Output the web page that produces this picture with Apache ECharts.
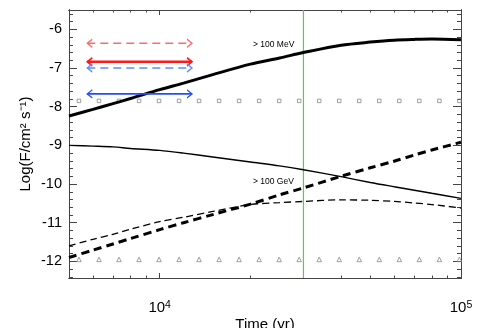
<!DOCTYPE html>
<html><head><meta charset="utf-8">
<script src="https://cdn.jsdelivr.net/npm/echarts@6/dist/echarts.min.js"></script>
<style>html,body{margin:0;padding:0;background:#fff}#c{width:479px;height:328px}</style>
</head><body><div id="c"></div>
<script>
// ---- data ----
const curveTimes = [5000, 6000, 7000, 8000, 10000, 12000, 15000, 20000, 25000, 30000, 40000, 50000, 60000, 70000, 80000, 100000];
const mevSolid = [-8.24, -8.07, -7.92, -7.79, -7.56, -7.39, -7.17, -6.90, -6.74, -6.60, -6.41, -6.33, -6.28, -6.26, -6.25, -6.27];
const gevSolid = [-9.00, -9.02, -9.04, -9.08, -9.13, -9.20, -9.30, -9.43, -9.53, -9.63, -9.81, -9.96, -10.07, -10.16, -10.24, -10.37];
const gevDashThin = [-11.60, -11.43, -11.30, -11.17, -10.97, -10.86, -10.71, -10.53, -10.48, -10.45, -10.41, -10.42, -10.45, -10.49, -10.53, -10.62];
const gevDashThick = [-11.90, -11.71, -11.55, -11.41, -11.18, -11.00, -10.79, -10.52, -10.28, -10.10, -9.80, -9.58, -9.41, -9.25, -9.12, -8.92];
const markerTimes = [5395, 6287, 7326, 8540, 9950, 11597, 13510, 15745, 18344, 21385, 24920, 29040, 33840, 39440, 45950, 53560, 62410, 72730, 84770, 98760];
const squareLevel = -7.85;
const triangleLevel = -11.95;
const limitTimes = [5750, 12800];
const limitRedDashed = -6.36;
const limitRedSolid = -6.84;
const limitBlueDashed = -7.00;
const limitBlueSolid = -7.67;
const markTime = 30000;
const xMajorTicks = [10000, 100000];
const xMinorTicks = [6000, 7000, 8000, 9000, 20000, 30000, 40000, 50000, 60000, 70000, 80000, 90000];
const yMajorTicks = [-12, -11, -10, -9, -8, -7, -6];
const labelMeV = '> 100 MeV';
const labelGeV = '> 100 GeV';

// ---- helpers ----
const FONT = 'Liberation Sans, Arial, Helvetica, sans-serif';
const yMinorTicks = [];
for (let v = -12.4; v <= -5.55; v += 0.2) {
  const r = Math.round(v * 10) / 10;
  if (Math.abs(r - Math.round(r)) > 1e-6) yMinorTicks.push(r);
}
const XMIN = 5000, XMAX = 100000, YMIN = -12.43, YMAX = -5.5;
const LXMIN = Math.log10(XMIN), LXMAX = Math.log10(XMAX);
const AX = '#444';

function auxX(pos, values, len, labels) {
  return {
    type: 'value', position: pos, min: LXMIN, max: LXMAX,
    axisLine: { show: true, onZero: false, lineStyle: { color: AX, width: 1 } },
    splitLine: { show: false }, splitArea: { show: false },
    axisTick: { show: true, inside: true, length: len, customValues: values.map(v => Math.log10(v)), lineStyle: { color: AX, width: 1 } },
    axisLabel: labels ? {
      show: true, customValues: values.map(v => Math.log10(v)), margin: 22,
      formatter: v => '{b|10}{s|' + Math.round(v) + '}',
      rich: { b: { fontSize: 15, fontFamily: FONT, color: '#000' }, s: { fontSize: 10.5, fontFamily: FONT, color: '#000', verticalAlign: 'top' } }
    } : { show: false }
  };
}
function auxY(pos, values, len, labels) {
  return {
    type: 'value', position: pos, min: YMIN, max: YMAX,
    axisLine: { show: true, onZero: false, lineStyle: { color: AX, width: 1 } },
    splitLine: { show: false }, splitArea: { show: false },
    axisTick: { show: true, inside: true, length: len, customValues: values, lineStyle: { color: AX, width: 1 } },
    axisLabel: labels ? { show: true, customValues: values, margin: 7, fontSize: 14.5, fontFamily: FONT, color: '#000', formatter: v => String(Math.round(v)) } : { show: false }
  };
}
function curve(vals, width, type) {
  return {
    type: 'line', xAxisIndex: 0, yAxisIndex: 0, smooth: 0.3, showSymbol: false, symbol: 'none',
    data: curveTimes.map((t, i) => [t, vals[i]]),
    itemStyle: { color: '#000' },
    lineStyle: { color: '#000', width: width, type: type }, silent: true, z: 3
  };
}
function limit(level, color, width, type) {
  return {
    type: 'line', xAxisIndex: 0, yAxisIndex: 0, silent: true, z: 4,
    data: [
      { value: [limitTimes[0], level], symbol: 'path://M10,0L0,5L10,10', symbolOffset: [2.5, 0] },
      { value: [limitTimes[1], level], symbol: 'path://M0,0L10,5L0,10', symbolOffset: [-2.5, 0] }
    ],
    showSymbol: true, symbolSize: [5, 8],
    itemStyle: { color: 'none', borderColor: color, borderWidth: Math.max(1.2, width * 0.6) },
    lineStyle: { color: color, width: width, type: type }
  };
}

const chart = echarts.init(document.getElementById('c'), null, { renderer: 'canvas' });
chart.setOption({
  animation: false,
  backgroundColor: '#fff',
  grid: { left: 69, right: 18, top: 10, bottom: 50, containLabel: false, outerBoundsMode: 'none' },
  xAxis: [
    { type: 'log', position: 'bottom', min: XMIN, max: XMAX, logBase: 10,
      axisLine: { show: true, onZero: false, lineStyle: { color: AX, width: 1 } },
      axisTick: { show: false }, axisLabel: { show: false }, splitLine: { show: false },
      name: 'Time (yr)', nameLocation: 'middle', nameGap: 39,
      nameTextStyle: { fontSize: 15, fontFamily: FONT, color: '#000' } },
    { type: 'log', position: 'top', min: XMIN, max: XMAX, logBase: 10,
      axisLine: { show: true, onZero: false, lineStyle: { color: AX, width: 1 } },
      axisTick: { show: false }, axisLabel: { show: false }, splitLine: { show: false } },
    auxX('bottom', xMajorTicks, 5, true),
    auxX('bottom', xMinorTicks, 2.5, false),
    auxX('top', xMajorTicks, 5, false),
    auxX('top', xMinorTicks, 2.5, false)
  ],
  yAxis: [
    { type: 'value', position: 'left', min: YMIN, max: YMAX,
      axisLine: { show: true, onZero: false, lineStyle: { color: AX, width: 1 } },
      axisTick: { show: false }, axisLabel: { show: false }, splitLine: { show: false },
      name: 'Log(F/cm² s⁻¹)', nameLocation: 'middle', nameGap: 36,
      nameTextStyle: { fontSize: 15, fontFamily: FONT, color: '#000' } },
    { type: 'value', position: 'right', min: YMIN, max: YMAX,
      axisLine: { show: true, onZero: false, lineStyle: { color: AX, width: 1 } },
      axisTick: { show: false }, axisLabel: { show: false }, splitLine: { show: false } },
    auxY('left', yMajorTicks, 8, true),
    auxY('left', yMinorTicks, 4, false),
    auxY('right', yMajorTicks, 8, false),
    auxY('right', yMinorTicks, 4, false)
  ],
  graphic: [
    { type: 'text', left: 253, top: 40, z: 10, style: { text: labelMeV, font: '8.5px ' + FONT, fill: '#000' } },
    { type: 'text', left: 253, top: 177, z: 10, style: { text: labelGeV, font: '8.5px ' + FONT, fill: '#000' } }
  ],
  series: [
    {
      type: 'scatter', xAxisIndex: 0, yAxisIndex: 0, silent: true, symbol: 'rect', symbolSize: 3.5,
      data: markerTimes.map(t => [t, squareLevel]),
      itemStyle: { color: 'transparent', borderColor: '#888', borderWidth: 1 }
    },
    {
      type: 'scatter', xAxisIndex: 0, yAxisIndex: 0, silent: true, symbol: 'triangle', symbolSize: 4.5,
      data: markerTimes.map(t => [t, triangleLevel]),
      itemStyle: { color: 'transparent', borderColor: '#888', borderWidth: 1 }
    },
    curve(mevSolid, 3, 'solid'),
    curve(gevSolid, 1.4, 'solid'),
    curve(gevDashThin, 1.3, [7, 4]),
    curve(gevDashThick, 3, [8, 5]),
    limit(limitRedDashed, '#ff6b6b', 1.3, [8, 5]),
    limit(limitRedSolid, '#ff1a1a', 2.5, 'solid'),
    limit(limitBlueDashed, '#5a8cff', 1.3, [8, 5]),
    limit(limitBlueSolid, '#1f4fff', 1.6, 'solid'),
    {
      type: 'line', xAxisIndex: 0, yAxisIndex: 0, silent: true, showSymbol: false, symbol: 'none', z: 2,
      data: [[markTime, YMIN], [markTime, YMAX]],
      itemStyle: { color: 'rgb(70,215,70)' },
      lineStyle: { color: 'rgb(70,215,70)', width: 1.2, type: 'solid', opacity: 1 }
    }
  ]
});
</script></body></html>
